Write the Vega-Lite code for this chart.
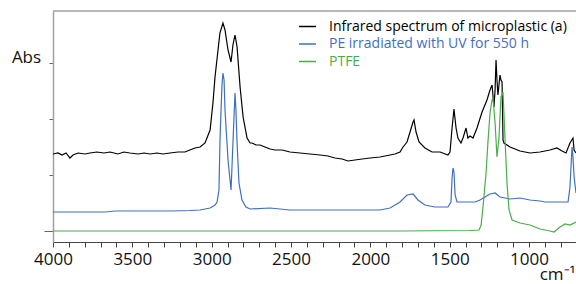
{
  "$schema": "https://vega.github.io/schema/vega-lite/v6.json",
  "width": 523,
  "height": 231,
  "autosize": "none",
  "padding": {"left": 53, "top": 11, "right": 0, "bottom": 42},
  "config": {
    "view": {"stroke": null},
    "font": "Open Sans"
  },
  "datasets": {
    "spectra": [
      {"s": "Infrared spectrum of microplastic (a)", "wn": 4000, "v": 88},
      {"s": "Infrared spectrum of microplastic (a)", "wn": 3968, "v": 89},
      {"s": "Infrared spectrum of microplastic (a)", "wn": 3943, "v": 87},
      {"s": "Infrared spectrum of microplastic (a)", "wn": 3918, "v": 89},
      {"s": "Infrared spectrum of microplastic (a)", "wn": 3893, "v": 84},
      {"s": "Infrared spectrum of microplastic (a)", "wn": 3874, "v": 87},
      {"s": "Infrared spectrum of microplastic (a)", "wn": 3842, "v": 89},
      {"s": "Infrared spectrum of microplastic (a)", "wn": 3798, "v": 88},
      {"s": "Infrared spectrum of microplastic (a)", "wn": 3767, "v": 89},
      {"s": "Infrared spectrum of microplastic (a)", "wn": 3723, "v": 90},
      {"s": "Infrared spectrum of microplastic (a)", "wn": 3679, "v": 89},
      {"s": "Infrared spectrum of microplastic (a)", "wn": 3641, "v": 90},
      {"s": "Infrared spectrum of microplastic (a)", "wn": 3590, "v": 88},
      {"s": "Infrared spectrum of microplastic (a)", "wn": 3553, "v": 90},
      {"s": "Infrared spectrum of microplastic (a)", "wn": 3515, "v": 89},
      {"s": "Infrared spectrum of microplastic (a)", "wn": 3464, "v": 88},
      {"s": "Infrared spectrum of microplastic (a)", "wn": 3426, "v": 89},
      {"s": "Infrared spectrum of microplastic (a)", "wn": 3389, "v": 88},
      {"s": "Infrared spectrum of microplastic (a)", "wn": 3345, "v": 89},
      {"s": "Infrared spectrum of microplastic (a)", "wn": 3307, "v": 88},
      {"s": "Infrared spectrum of microplastic (a)", "wn": 3263, "v": 89},
      {"s": "Infrared spectrum of microplastic (a)", "wn": 3212, "v": 90},
      {"s": "Infrared spectrum of microplastic (a)", "wn": 3168, "v": 90},
      {"s": "Infrared spectrum of microplastic (a)", "wn": 3137, "v": 92},
      {"s": "Infrared spectrum of microplastic (a)", "wn": 3105, "v": 94},
      {"s": "Infrared spectrum of microplastic (a)", "wn": 3073, "v": 95},
      {"s": "Infrared spectrum of microplastic (a)", "wn": 3042, "v": 99},
      {"s": "Infrared spectrum of microplastic (a)", "wn": 3010, "v": 112},
      {"s": "Infrared spectrum of microplastic (a)", "wn": 2992, "v": 139},
      {"s": "Infrared spectrum of microplastic (a)", "wn": 2979, "v": 165},
      {"s": "Infrared spectrum of microplastic (a)", "wn": 2960, "v": 192},
      {"s": "Infrared spectrum of microplastic (a)", "wn": 2948, "v": 209},
      {"s": "Infrared spectrum of microplastic (a)", "wn": 2929, "v": 219},
      {"s": "Infrared spectrum of microplastic (a)", "wn": 2916, "v": 212},
      {"s": "Infrared spectrum of microplastic (a)", "wn": 2897, "v": 192},
      {"s": "Infrared spectrum of microplastic (a)", "wn": 2878, "v": 180},
      {"s": "Infrared spectrum of microplastic (a)", "wn": 2866, "v": 197},
      {"s": "Infrared spectrum of microplastic (a)", "wn": 2853, "v": 207},
      {"s": "Infrared spectrum of microplastic (a)", "wn": 2840, "v": 195},
      {"s": "Infrared spectrum of microplastic (a)", "wn": 2821, "v": 155},
      {"s": "Infrared spectrum of microplastic (a)", "wn": 2802, "v": 125},
      {"s": "Infrared spectrum of microplastic (a)", "wn": 2777, "v": 104},
      {"s": "Infrared spectrum of microplastic (a)", "wn": 2758, "v": 99},
      {"s": "Infrared spectrum of microplastic (a)", "wn": 2746, "v": 99},
      {"s": "Infrared spectrum of microplastic (a)", "wn": 2721, "v": 97},
      {"s": "Infrared spectrum of microplastic (a)", "wn": 2695, "v": 97},
      {"s": "Infrared spectrum of microplastic (a)", "wn": 2664, "v": 95},
      {"s": "Infrared spectrum of microplastic (a)", "wn": 2632, "v": 93},
      {"s": "Infrared spectrum of microplastic (a)", "wn": 2601, "v": 92},
      {"s": "Infrared spectrum of microplastic (a)", "wn": 2557, "v": 92},
      {"s": "Infrared spectrum of microplastic (a)", "wn": 2506, "v": 90},
      {"s": "Infrared spectrum of microplastic (a)", "wn": 2443, "v": 89},
      {"s": "Infrared spectrum of microplastic (a)", "wn": 2380, "v": 88},
      {"s": "Infrared spectrum of microplastic (a)", "wn": 2317, "v": 87},
      {"s": "Infrared spectrum of microplastic (a)", "wn": 2267, "v": 86},
      {"s": "Infrared spectrum of microplastic (a)", "wn": 2223, "v": 84},
      {"s": "Infrared spectrum of microplastic (a)", "wn": 2178, "v": 83},
      {"s": "Infrared spectrum of microplastic (a)", "wn": 2141, "v": 81},
      {"s": "Infrared spectrum of microplastic (a)", "wn": 2097, "v": 82},
      {"s": "Infrared spectrum of microplastic (a)", "wn": 2052, "v": 83},
      {"s": "Infrared spectrum of microplastic (a)", "wn": 2002, "v": 84},
      {"s": "Infrared spectrum of microplastic (a)", "wn": 1939, "v": 85},
      {"s": "Infrared spectrum of microplastic (a)", "wn": 1876, "v": 87},
      {"s": "Infrared spectrum of microplastic (a)", "wn": 1845, "v": 88},
      {"s": "Infrared spectrum of microplastic (a)", "wn": 1813, "v": 90},
      {"s": "Infrared spectrum of microplastic (a)", "wn": 1794, "v": 95},
      {"s": "Infrared spectrum of microplastic (a)", "wn": 1769, "v": 100},
      {"s": "Infrared spectrum of microplastic (a)", "wn": 1750, "v": 110},
      {"s": "Infrared spectrum of microplastic (a)", "wn": 1731, "v": 120},
      {"s": "Infrared spectrum of microplastic (a)", "wn": 1725, "v": 122},
      {"s": "Infrared spectrum of microplastic (a)", "wn": 1712, "v": 110},
      {"s": "Infrared spectrum of microplastic (a)", "wn": 1693, "v": 100},
      {"s": "Infrared spectrum of microplastic (a)", "wn": 1656, "v": 94},
      {"s": "Infrared spectrum of microplastic (a)", "wn": 1611, "v": 90},
      {"s": "Infrared spectrum of microplastic (a)", "wn": 1561, "v": 90},
      {"s": "Infrared spectrum of microplastic (a)", "wn": 1511, "v": 87},
      {"s": "Infrared spectrum of microplastic (a)", "wn": 1498, "v": 90},
      {"s": "Infrared spectrum of microplastic (a)", "wn": 1485, "v": 114},
      {"s": "Infrared spectrum of microplastic (a)", "wn": 1473, "v": 133},
      {"s": "Infrared spectrum of microplastic (a)", "wn": 1460, "v": 114},
      {"s": "Infrared spectrum of microplastic (a)", "wn": 1448, "v": 104},
      {"s": "Infrared spectrum of microplastic (a)", "wn": 1429, "v": 99},
      {"s": "Infrared spectrum of microplastic (a)", "wn": 1416, "v": 104},
      {"s": "Infrared spectrum of microplastic (a)", "wn": 1397, "v": 114},
      {"s": "Infrared spectrum of microplastic (a)", "wn": 1385, "v": 104},
      {"s": "Infrared spectrum of microplastic (a)", "wn": 1372, "v": 106},
      {"s": "Infrared spectrum of microplastic (a)", "wn": 1353, "v": 104},
      {"s": "Infrared spectrum of microplastic (a)", "wn": 1328, "v": 114},
      {"s": "Infrared spectrum of microplastic (a)", "wn": 1296, "v": 130},
      {"s": "Infrared spectrum of microplastic (a)", "wn": 1265, "v": 142},
      {"s": "Infrared spectrum of microplastic (a)", "wn": 1246, "v": 152},
      {"s": "Infrared spectrum of microplastic (a)", "wn": 1233, "v": 157},
      {"s": "Infrared spectrum of microplastic (a)", "wn": 1221, "v": 135},
      {"s": "Infrared spectrum of microplastic (a)", "wn": 1214, "v": 152},
      {"s": "Infrared spectrum of microplastic (a)", "wn": 1208, "v": 182},
      {"s": "Infrared spectrum of microplastic (a)", "wn": 1202, "v": 162},
      {"s": "Infrared spectrum of microplastic (a)", "wn": 1196, "v": 147},
      {"s": "Infrared spectrum of microplastic (a)", "wn": 1183, "v": 167},
      {"s": "Infrared spectrum of microplastic (a)", "wn": 1177, "v": 162},
      {"s": "Infrared spectrum of microplastic (a)", "wn": 1170, "v": 160},
      {"s": "Infrared spectrum of microplastic (a)", "wn": 1164, "v": 102},
      {"s": "Infrared spectrum of microplastic (a)", "wn": 1158, "v": 99},
      {"s": "Infrared spectrum of microplastic (a)", "wn": 1120, "v": 95},
      {"s": "Infrared spectrum of microplastic (a)", "wn": 1057, "v": 91},
      {"s": "Infrared spectrum of microplastic (a)", "wn": 994, "v": 89},
      {"s": "Infrared spectrum of microplastic (a)", "wn": 931, "v": 90},
      {"s": "Infrared spectrum of microplastic (a)", "wn": 868, "v": 92},
      {"s": "Infrared spectrum of microplastic (a)", "wn": 824, "v": 94},
      {"s": "Infrared spectrum of microplastic (a)", "wn": 792, "v": 91},
      {"s": "Infrared spectrum of microplastic (a)", "wn": 767, "v": 89},
      {"s": "Infrared spectrum of microplastic (a)", "wn": 742, "v": 99},
      {"s": "Infrared spectrum of microplastic (a)", "wn": 723, "v": 104},
      {"s": "Infrared spectrum of microplastic (a)", "wn": 716, "v": 92},
      {"s": "Infrared spectrum of microplastic (a)", "wn": 704, "v": 89},

      {"s": "PE irradiated with UV for 550 h", "wn": 4000, "v": 30},
      {"s": "PE irradiated with UV for 550 h", "wn": 3830, "v": 30},
      {"s": "PE irradiated with UV for 550 h", "wn": 3672, "v": 30},
      {"s": "PE irradiated with UV for 550 h", "wn": 3609, "v": 31},
      {"s": "PE irradiated with UV for 550 h", "wn": 3515, "v": 31},
      {"s": "PE irradiated with UV for 550 h", "wn": 3389, "v": 31},
      {"s": "PE irradiated with UV for 550 h", "wn": 3263, "v": 31},
      {"s": "PE irradiated with UV for 550 h", "wn": 3137, "v": 31.5},
      {"s": "PE irradiated with UV for 550 h", "wn": 3073, "v": 32},
      {"s": "PE irradiated with UV for 550 h", "wn": 3010, "v": 34},
      {"s": "PE irradiated with UV for 550 h", "wn": 2979, "v": 37},
      {"s": "PE irradiated with UV for 550 h", "wn": 2966, "v": 40},
      {"s": "PE irradiated with UV for 550 h", "wn": 2954, "v": 52},
      {"s": "PE irradiated with UV for 550 h", "wn": 2948, "v": 99},
      {"s": "PE irradiated with UV for 550 h", "wn": 2941, "v": 132},
      {"s": "PE irradiated with UV for 550 h", "wn": 2935, "v": 157},
      {"s": "PE irradiated with UV for 550 h", "wn": 2929, "v": 169},
      {"s": "PE irradiated with UV for 550 h", "wn": 2922, "v": 162},
      {"s": "PE irradiated with UV for 550 h", "wn": 2916, "v": 132},
      {"s": "PE irradiated with UV for 550 h", "wn": 2897, "v": 82},
      {"s": "PE irradiated with UV for 550 h", "wn": 2878, "v": 52},
      {"s": "PE irradiated with UV for 550 h", "wn": 2866, "v": 99},
      {"s": "PE irradiated with UV for 550 h", "wn": 2853, "v": 149},
      {"s": "PE irradiated with UV for 550 h", "wn": 2847, "v": 132},
      {"s": "PE irradiated with UV for 550 h", "wn": 2840, "v": 99},
      {"s": "PE irradiated with UV for 550 h", "wn": 2828, "v": 59},
      {"s": "PE irradiated with UV for 550 h", "wn": 2809, "v": 42},
      {"s": "PE irradiated with UV for 550 h", "wn": 2784, "v": 35},
      {"s": "PE irradiated with UV for 550 h", "wn": 2758, "v": 33},
      {"s": "PE irradiated with UV for 550 h", "wn": 2632, "v": 34},
      {"s": "PE irradiated with UV for 550 h", "wn": 2506, "v": 32},
      {"s": "PE irradiated with UV for 550 h", "wn": 2317, "v": 32},
      {"s": "PE irradiated with UV for 550 h", "wn": 2065, "v": 32},
      {"s": "PE irradiated with UV for 550 h", "wn": 1939, "v": 32},
      {"s": "PE irradiated with UV for 550 h", "wn": 1876, "v": 34},
      {"s": "PE irradiated with UV for 550 h", "wn": 1813, "v": 40},
      {"s": "PE irradiated with UV for 550 h", "wn": 1769, "v": 47},
      {"s": "PE irradiated with UV for 550 h", "wn": 1731, "v": 48},
      {"s": "PE irradiated with UV for 550 h", "wn": 1700, "v": 42},
      {"s": "PE irradiated with UV for 550 h", "wn": 1656, "v": 37},
      {"s": "PE irradiated with UV for 550 h", "wn": 1593, "v": 35},
      {"s": "PE irradiated with UV for 550 h", "wn": 1511, "v": 35},
      {"s": "PE irradiated with UV for 550 h", "wn": 1492, "v": 40},
      {"s": "PE irradiated with UV for 550 h", "wn": 1485, "v": 64},
      {"s": "PE irradiated with UV for 550 h", "wn": 1479, "v": 74},
      {"s": "PE irradiated with UV for 550 h", "wn": 1473, "v": 70},
      {"s": "PE irradiated with UV for 550 h", "wn": 1466, "v": 47},
      {"s": "PE irradiated with UV for 550 h", "wn": 1454, "v": 40},
      {"s": "PE irradiated with UV for 550 h", "wn": 1403, "v": 40},
      {"s": "PE irradiated with UV for 550 h", "wn": 1340, "v": 40},
      {"s": "PE irradiated with UV for 550 h", "wn": 1309, "v": 42},
      {"s": "PE irradiated with UV for 550 h", "wn": 1246, "v": 48},
      {"s": "PE irradiated with UV for 550 h", "wn": 1214, "v": 49},
      {"s": "PE irradiated with UV for 550 h", "wn": 1183, "v": 45},
      {"s": "PE irradiated with UV for 550 h", "wn": 1120, "v": 43},
      {"s": "PE irradiated with UV for 550 h", "wn": 1057, "v": 44},
      {"s": "PE irradiated with UV for 550 h", "wn": 994, "v": 42},
      {"s": "PE irradiated with UV for 550 h", "wn": 931, "v": 41},
      {"s": "PE irradiated with UV for 550 h", "wn": 899, "v": 40},
      {"s": "PE irradiated with UV for 550 h", "wn": 805, "v": 40},
      {"s": "PE irradiated with UV for 550 h", "wn": 754, "v": 40},
      {"s": "PE irradiated with UV for 550 h", "wn": 742, "v": 55},
      {"s": "PE irradiated with UV for 550 h", "wn": 729, "v": 95},
      {"s": "PE irradiated with UV for 550 h", "wn": 723, "v": 85},
      {"s": "PE irradiated with UV for 550 h", "wn": 716, "v": 65},
      {"s": "PE irradiated with UV for 550 h", "wn": 704, "v": 49},

      {"s": "PTFE", "wn": 4000, "v": 11},
      {"s": "PTFE", "wn": 3704, "v": 11},
      {"s": "PTFE", "wn": 3073, "v": 11},
      {"s": "PTFE", "wn": 2443, "v": 11},
      {"s": "PTFE", "wn": 1813, "v": 11},
      {"s": "PTFE", "wn": 1372, "v": 11.5},
      {"s": "PTFE", "wn": 1315, "v": 12},
      {"s": "PTFE", "wn": 1302, "v": 17},
      {"s": "PTFE", "wn": 1290, "v": 35},
      {"s": "PTFE", "wn": 1271, "v": 69},
      {"s": "PTFE", "wn": 1258, "v": 102},
      {"s": "PTFE", "wn": 1246, "v": 129},
      {"s": "PTFE", "wn": 1233, "v": 142},
      {"s": "PTFE", "wn": 1227, "v": 144},
      {"s": "PTFE", "wn": 1214, "v": 119},
      {"s": "PTFE", "wn": 1202, "v": 85},
      {"s": "PTFE", "wn": 1189, "v": 105},
      {"s": "PTFE", "wn": 1177, "v": 145},
      {"s": "PTFE", "wn": 1164, "v": 150},
      {"s": "PTFE", "wn": 1151, "v": 102},
      {"s": "PTFE", "wn": 1139, "v": 59},
      {"s": "PTFE", "wn": 1126, "v": 32},
      {"s": "PTFE", "wn": 1107, "v": 22},
      {"s": "PTFE", "wn": 1057, "v": 19},
      {"s": "PTFE", "wn": 994, "v": 17},
      {"s": "PTFE", "wn": 931, "v": 13},
      {"s": "PTFE", "wn": 868, "v": 11},
      {"s": "PTFE", "wn": 842, "v": 10},
      {"s": "PTFE", "wn": 805, "v": 15},
      {"s": "PTFE", "wn": 773, "v": 18},
      {"s": "PTFE", "wn": 742, "v": 17},
      {"s": "PTFE", "wn": 704, "v": 20}
    ]
  },
  "layer": [
    {
      "data": {"values": [{"top": 231}]},
      "mark": {"type": "rule", "color": "#a0a0a0", "strokeWidth": 1.5},
      "encoding": {"y": {"field": "top", "type": "quantitative"}}
    },
    {
      "data": {"name": "spectra"},
      "mark": {"type": "line", "strokeWidth": 1.2, "clip": true},
      "encoding": {
        "x": {
          "field": "wn",
          "type": "quantitative",
          "scale": {"domain": [4000, 704], "nice": false, "zero": false},
          "axis": {
            "values": [4000, 3900, 3800, 3700, 3600, 3500, 3400, 3300, 3200, 3100, 3000, 2900, 2800, 2700, 2600, 2500, 2400, 2300, 2200, 2100, 2000, 1900, 1800, 1700, 1600, 1500, 1400, 1300, 1200, 1100, 1000, 900, 800],
            "labelExpr": "datum.value % 500 === 0 ? format(datum.value, 'd') : ''",
            "labelFlush": false,
            "labelOverlap": false,
            "labelFont": "Open Sans",
            "labelFontSize": 17,
            "labelColor": "#111111",
            "labelPadding": 4,
            "tickSize": 5,
            "tickColor": "#444444",
            "domainColor": "#444444",
            "grid": false,
            "title": "cm⁻¹",
            "titleFont": "Open Sans",
            "titleFontSize": 17,
            "titleFontWeight": "normal",
            "titleColor": "#111111",
            "titleAlign": "right",
            "titleAnchor": null,
            "titleX": 522,
            "titleY": 37,
            "titleBaseline": "alphabetic"
          }
        },
        "y": {
          "field": "v",
          "type": "quantitative",
          "scale": {"domain": [0, 231], "nice": false, "zero": false},
          "axis": {
            "values": [11, 25, 39, 53, 67, 81, 95, 109, 123, 137, 151, 165, 179, 193, 207, 221],
            "labels": false,
            "grid": false,
            "tickSize": {"condition": {"test": "(datum.value - 11) % 70 === 0", "value": 9}, "value": 4},
            "tickColor": "#666666",
            "domainColor": "#a0a0a0",
            "domainWidth": 1.5,
            "title": "Abs",
            "titleAngle": 0,
            "titleFont": "Open Sans",
            "titleFontSize": 17,
            "titleFontWeight": "normal",
            "titleColor": "#111111",
            "titleAlign": "center",
            "titleBaseline": "middle",
            "titleX": -27,
            "titleY": 46
          }
        },
        "color": {
          "field": "s",
          "type": "nominal",
          "scale": {
            "domain": ["Infrared spectrum of microplastic (a)", "PE irradiated with UV for 550 h", "PTFE"],
            "range": ["#000000", "#3f6fc2", "#49ad4c"]
          },
          "legend": {
            "title": null,
            "orient": "none",
            "legendX": 245,
            "legendY": 6,
            "padding": 0,
            "symbolType": "stroke",
            "symbolSize": 289,
            "symbolStrokeWidth": 1.5,
            "labelFont": "Open Sans",
            "labelFontSize": 14,
            "labelOffset": 12,
            "rowPadding": 0.5,
            "labelLimit": 400,
            "encode": {
              "labels": {"update": {"fill": {"scale": "color", "field": "value"}}}
            }
          }
        }
      }
    }
  ]
}
